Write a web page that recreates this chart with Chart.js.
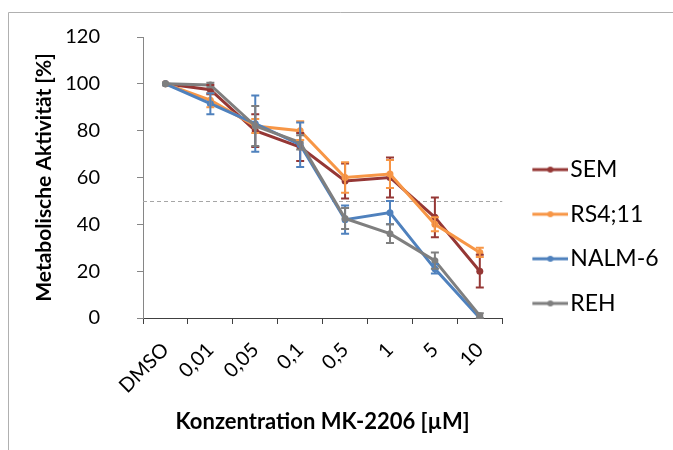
<!DOCTYPE html>
<html>
<head>
<meta charset="utf-8">
<script src="https://cdn.jsdelivr.net/npm/chart.js@4.4.1/dist/chart.umd.min.js"></script>
<style>
  html, body { margin: 0; padding: 0; background: #fff; }
  canvas { display: block; }
</style>
</head>
<body>
<canvas id="chart" width="673" height="450"></canvas>
<script>
// concentrations (categories)
const labels = ["DMSO", "0,01", "0,05", "0,1", "0,5", "1", "5", "10"];

// mean metabolic activity [%] per cell line
const sem   = [100, 97.5, 80, 73, 58.5, 60, 43, 20];
const rs411 = [100, 93, 82, 80, 60, 61.5, 40, 28];
const nalm6 = [100, 91.5, 83, 74, 42, 45, 21, 0];
const reh   = [100, 99.5, 82, 75, 42.5, 36, 24.5, 1];

// standard deviations (error bars)
const semErr   = [0, 2, 7, 6, 7.5, 8.5, 8.5, 7];
const rs411Err = [0, 3, 3, 4, 6.5, 6, 3, 2];
const nalm6Err = [0, 4.5, 12, 9.5, 6, 5, 2, 0];
const rehErr   = [0, 1, 8.5, 3, 4.5, 4, 3.5, 1];

const yTicks = [0, 20, 40, 60, 80, 100, 120];
const threshold = 50;

const FONT = "Lato, 'Open Sans', sans-serif";

// little "line with dot" legend marker, like Excel's
function makeMarker(color) {
  const c = document.createElement("canvas");
  c.width = 54;
  c.height = 12;
  const g = c.getContext("2d");
  g.strokeStyle = color;
  g.lineWidth = 3;
  g.beginPath();
  g.moveTo(18, 6);
  g.lineTo(54, 6);
  g.stroke();
  g.fillStyle = color;
  g.beginPath();
  g.arc(36, 6, 3, 0, Math.PI * 2);
  g.fill();
  return c;
}

function series(label, data, errors, color, order) {
  return {
    label,
    data,
    errors,
    order,
    borderColor: color,
    backgroundColor: color,
    borderWidth: 3,
    pointRadius: 3.5,
    pointBorderWidth: 0,
    pointBackgroundColor: color,
    tension: 0,
    marker: makeMarker(color),
  };
}

const extras = {
  id: "extras",
  beforeDraw(chart) {
    // outer frame (top & left edge visible in the original)
    const ctx = chart.ctx;
    ctx.save();
    ctx.strokeStyle = "#b0b0b0";
    ctx.lineWidth = 1;
    ctx.beginPath();
    ctx.moveTo(8.5, 450);
    ctx.lineTo(8.5, 12.5);
    ctx.lineTo(673, 12.5);
    ctx.stroke();
    ctx.restore();
  },
  beforeDatasetsDraw(chart) {
    const { ctx, chartArea: a, scales: { y } } = chart;
    const py = Math.round(y.getPixelForValue(threshold)) + 0.5;
    ctx.save();
    ctx.strokeStyle = "#a6a6a6";
    ctx.lineWidth = 1;
    ctx.setLineDash([4, 3]);
    ctx.beginPath();
    ctx.moveTo(a.left, py);
    ctx.lineTo(a.right, py);
    ctx.stroke();
    ctx.restore();
  },
  afterDatasetsDraw(chart) {
    const { ctx, scales: { x, y } } = chart;
    ctx.save();
    ctx.lineWidth = 2;
    chart.data.datasets.forEach((ds) => {
      ctx.strokeStyle = ds.borderColor;
      ds.errors.forEach((e, i) => {
        if (!e) return;
        const px = x.getPixelForValue(i);
        const top = y.getPixelForValue(ds.data[i] + e);
        const bot = y.getPixelForValue(ds.data[i] - e);
        ctx.beginPath();
        ctx.moveTo(px, top);
        ctx.lineTo(px, bot);
        ctx.moveTo(px - 4, top);
        ctx.lineTo(px + 4, top);
        ctx.moveTo(px - 4, bot);
        ctx.lineTo(px + 4, bot);
        ctx.stroke();
      });
    });
    ctx.restore();
  },
};

new Chart(document.getElementById("chart"), {
  type: "line",
  data: {
    labels,
    datasets: [
      series("SEM", sem, semErr, "#953735", 4),
      series("RS4;11", rs411, rs411Err, "#f79646", 3),
      series("NALM-6", nalm6, nalm6Err, "#4f81bd", 2),
      series("REH", reh, rehErr, "#7f7f7f", 1),
    ],
  },
  options: {
    responsive: false,
    animation: false,
    layout: { padding: { left: 8, top: 37, right: 6, bottom: 14 } },
    plugins: {
      tooltip: { enabled: false },
      legend: {
        position: "right",
        labels: {
          usePointStyle: true,
          pointStyleWidth: 35,
          padding: 21.6,
          color: "#000",
          font: { family: FONT, size: 23 },
          sort: (a, b) => a.datasetIndex - b.datasetIndex,
          generateLabels(chart) {
            const items = Chart.defaults.plugins.legend.labels.generateLabels(chart);
            items.forEach((it) => {
              it.pointStyle = chart.data.datasets[it.datasetIndex].marker;
            });
            return items;
          },
        },
      },
    },
    scales: {
      x: {
        offset: true,
        afterFit(s) { s.height = 118; },
        grid: {
          offset: true,
          drawOnChartArea: false,
          tickLength: 6,
          color: "#404040",
        },
        border: { color: "#404040", width: 1 },
        ticks: {
          minRotation: 45,
          maxRotation: 45,
          padding: 14,
          color: "#000",
          font: { family: FONT, size: 20 },
        },
        title: {
          display: true,
          text: "Konzentration MK-2206 [µM]",
          color: "#000",
          font: { family: FONT, size: 22, weight: "bold" },
          padding: { top: 0, bottom: 1 },
        },
      },
      y: {
        min: 0,
        max: 120,
        afterFit(s) {
          s.width = 135;
          s.paddingTop = 0;
          s.paddingBottom = 0;
        },
        afterBuildTicks(s) { s.ticks = yTicks.map((v) => ({ value: v })); },
        grid: {
          drawOnChartArea: false,
          tickLength: 6,
          color: "#868686",
        },
        border: { color: "#868686", width: 1 },
        ticks: {
          padding: 37,
          color: "#000",
          font: { family: FONT, size: 20 },
        },
        title: {
          display: true,
          text: "Metabolische Aktivität [%]",
          color: "#000",
          font: { family: FONT, size: 21, weight: "bold" },
          padding: { top: 24, bottom: 0 },
        },
      },
    },
  },
  plugins: [extras],
});
</script>
</body>
</html>
